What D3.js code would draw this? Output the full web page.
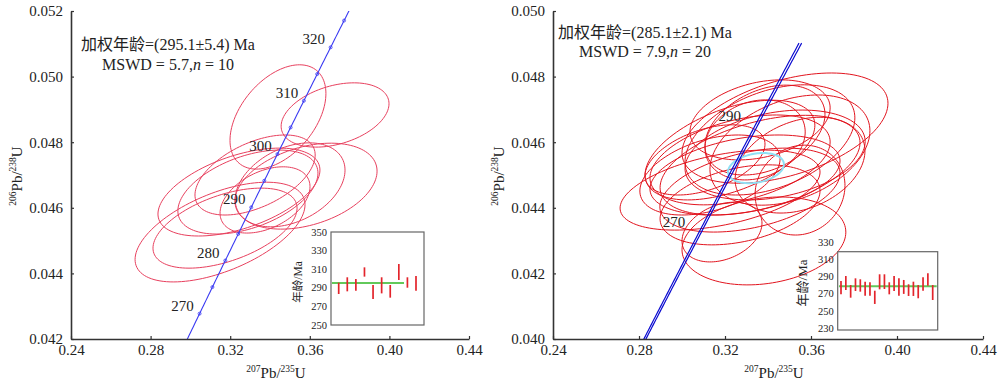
<!DOCTYPE html>
<html>
<head>
<meta charset="utf-8">
<script src="https://cdn.jsdelivr.net/npm/d3@7"></script>
<style>
  body { margin: 0; background: #fff; }
  text { font-family: "Liberation Serif", "Noto Sans CJK SC", serif; fill: #222; }
</style>
</head>
<body>
<svg id="chart" width="1000" height="385"></svg>
<script>
// spot ellipses: [207Pb/235U, err, 206Pb/238U, err, rho]
const leftSpots = [
  [0.3440, 0.0241, 0.04877, 0.00159, 0.45],
  [0.3727, 0.0271, 0.04883, 0.00098, 0.35],
  [0.3149, 0.0427, 0.04526, 0.00152, 0.55],
  [0.3174, 0.0362, 0.04538, 0.00122, 0.50],
  [0.3244, 0.0407, 0.04648, 0.00134, 0.50],
  [0.3289, 0.0352, 0.04648, 0.00128, 0.45],
  [0.3581, 0.0357, 0.04666, 0.00131, 0.35],
  [0.3375, 0.0226, 0.04624, 0.00101, 0.40],
  [0.3501, 0.0276, 0.04670, 0.00128, 0.35],
  [0.3325, 0.0302, 0.04700, 0.00122, 0.50]
];
const rightSpots = [
  [0.3381, 0.0381, 0.04299, 0.00134, 0.20],
  [0.3186, 0.0186, 0.04326, 0.00091, 0.30],
  [0.3177, 0.0465, 0.04454, 0.00122, 0.45],
  [0.3479, 0.0479, 0.04643, 0.00168, 0.45],
  [0.3363, 0.0326, 0.04668, 0.00122, 0.30],
  [0.3409, 0.0395, 0.04607, 0.00168, 0.40],
  [0.3270, 0.0419, 0.04546, 0.00137, 0.40],
  [0.3363, 0.0465, 0.04530, 0.00152, 0.45],
  [0.3293, 0.0442, 0.04500, 0.00122, 0.35],
  [0.3433, 0.0419, 0.04561, 0.00137, 0.30],
  [0.3223, 0.0395, 0.04576, 0.00152, 0.50],
  [0.3502, 0.0372, 0.04576, 0.00168, 0.35],
  [0.3316, 0.0419, 0.04454, 0.00128, 0.40],
  [0.3130, 0.0326, 0.04500, 0.00122, 0.40],
  [0.3549, 0.0302, 0.04530, 0.00146, 0.30],
  [0.3386, 0.0279, 0.04637, 0.00137, 0.35],
  [0.3270, 0.0372, 0.04409, 0.00122, 0.35],
  [0.3107, 0.0279, 0.04546, 0.00107, 0.45],
  [0.3549, 0.0209, 0.04454, 0.00137, 0.10],
  [0.3340, 0.0233, 0.04607, 0.00122, 0.20]
];
const rightMeanEllipse = [0.3344, 0.0130, 0.04521, 0.00046, 0.25];

const xTicks = [0.24, 0.28, 0.32, 0.36, 0.40, 0.44];
const leftYTicks = [0.042, 0.044, 0.046, 0.048, 0.050, 0.052];
const rightYTicks = [0.040, 0.042, 0.044, 0.046, 0.048, 0.050];

const leftMarkAges = [270, 275, 280, 285, 290, 295, 300, 305, 310, 315, 320, 325];
const leftLabelAges = [270, 280, 290, 300, 310, 320];
const rightLabelAges = [270, 290];

// weighted-mean inset: [low, high] age per spot (Ma)
const leftAgeBars = [
  [283.3, 295.5], [286.2, 301.3], [286.9, 299.5], [302.0, 312.0], [278.0, 293.0],
  [284.0, 301.3], [279.4, 293.0], [298.4, 315.6], [290.1, 301.3], [286.9, 302.7]
];
const rightAgeBars = [
  [269.5, 285.0], [274.5, 290.8], [265.6, 280.3], [273.4, 288.1], [272.6, 287.0],
  [267.9, 284.2], [267.9, 283.5], [258.3, 273.7], [275.3, 292.8], [275.7, 292.8],
  [269.5, 283.5], [273.4, 290.8], [267.9, 288.1], [270.0, 286.2], [267.6, 281.2],
  [267.6, 284.2], [264.9, 280.3], [273.7, 289.3], [279.5, 294.0], [262.9, 280.3]
];
const leftInsetTicks = [250, 270, 290, 310, 330, 350];
const rightInsetTicks = [230, 250, 270, 290, 310, 330];
const leftMeanLine = 295.1;
const rightMeanLine = 278.8;

const leftNote = ["加权年龄=(295.1±5.4) Ma", "5.7", "10"];
const rightNote = ["加权年龄=(285.1±2.1) Ma", "7.9", "20"];

// decay constants (1/Ma)
const L238 = 1.55125e-4, L235 = 9.8485e-4;

const svg = d3.select("#chart");

function ellipsePts(s) {
  let [cx, sx, cy, sy, r] = s;
  return d3.range(0, 361, 3).map(a => {
    let t = a * Math.PI / 180, u = Math.cos(t), v = Math.sin(t);
    return [cx + sx * u, cy + sy * (r * u + Math.sqrt(1 - r * r) * v)];
  });
}

function concordia(t, k) {
  return [Math.exp(L235 * k * t) - 1, Math.exp(L238 * t) - 1];
}

function drawPanel(p) {
  let x = d3.scaleLinear().domain([0.24, 0.44]).range([p.left, p.right]);
  let y = d3.scaleLinear().domain(p.yDomain).range([339, 11]);
  let g = svg.append("g");
  let line = d3.line().x(d => x(d[0])).y(d => y(d[1]));

  g.append("clipPath").attr("id", p.id + "-clip")
    .append("rect").attr("x", p.left).attr("y", 11)
    .attr("width", p.right - p.left).attr("height", 328);

  // spot ellipses
  g.append("g").selectAll("path").data(p.spots).join("path")
    .attr("d", s => line(ellipsePts(s)))
    .attr("fill", "none").attr("stroke", p.ellColor).attr("stroke-width", 1);

  if (p.meanEllipse) {
    g.append("path").attr("d", line(ellipsePts(p.meanEllipse)))
      .attr("fill", "none").attr("stroke", "#8fe0f5").attr("stroke-width", 2);
  }

  // concordia curve
  let cg = g.append("g").attr("clip-path", "url(#" + p.id + "-clip)");
  let ages = d3.range(p.ageRange[0], p.ageRange[1] + 0.01, 0.5);
  p.bands.forEach(k => {
    cg.append("path").attr("d", line(ages.map(t => concordia(t, k))))
      .attr("fill", "none").attr("stroke", p.curveColor).attr("stroke-width", p.curveWidth);
  });
  cg.selectAll("circle").data(p.markAges).join("circle")
    .attr("cx", t => x(concordia(t, 1)[0]))
    .attr("cy", t => y(concordia(t, 1)[1]))
    .attr("r", 1.5).attr("fill", "none").attr("stroke", p.curveColor).attr("stroke-width", 0.8);

  g.append("g").selectAll("text").data(p.labelAges).join("text")
    .attr("x", t => x(concordia(t, 1)[0]) + p.labelOff[0])
    .attr("y", t => y(concordia(t, 1)[1]) + p.labelOff[1])
    .attr("text-anchor", "middle").attr("dominant-baseline", "central")
    .attr("font-size", 15).text(d => d);

  // axes
  let xa = g.append("g").attr("transform", "translate(0,339)")
    .call(d3.axisBottom(x).tickValues(xTicks).tickFormat(d3.format(".2f"))
      .tickSize(-3).tickSizeOuter(0).tickPadding(5));
  let ya = g.append("g").attr("transform", "translate(" + p.left + ",0)")
    .call(d3.axisLeft(y).tickValues(p.yTicks).tickFormat(d3.format(".3f"))
      .tickSize(-3).tickSizeOuter(0).tickPadding(8));
  [xa, ya].forEach(a => {
    a.select(".domain").attr("stroke", "#333").attr("stroke-width", 1.6);
    a.selectAll(".tick line").attr("stroke", "#333").attr("stroke-width", 1.2);
    a.selectAll(".tick text").attr("font-size", 15).attr("fill", "#222")
      .attr("font-family", "Liberation Serif");
  });

  // axis titles
  let xt = g.append("text").attr("x", (p.left + p.right) / 2 + 6).attr("y", 378)
    .attr("text-anchor", "middle").attr("font-size", 15);
  xt.append("tspan").attr("font-size", 9.5).attr("dy", -6).text("207");
  xt.append("tspan").attr("dy", 6).text("Pb/");
  xt.append("tspan").attr("font-size", 9.5).attr("dy", -6).text("235");
  xt.append("tspan").attr("dy", 6).text("U");

  let yt = g.append("text")
    .attr("transform", "translate(" + (p.left - 49) + ",176) rotate(-90)")
    .attr("text-anchor", "middle").attr("font-size", 15);
  yt.append("tspan").attr("font-size", 9.5).attr("dy", -6).text("206");
  yt.append("tspan").attr("dy", 6).text("Pb/");
  yt.append("tspan").attr("font-size", 9.5).attr("dy", -6).text("238");
  yt.append("tspan").attr("dy", 6).text("U");

  // annotation
  g.append("text").attr("x", p.noteX).attr("y", p.noteY)
    .attr("text-anchor", "middle").attr("font-size", 16).text(p.note[0]);
  let n2 = g.append("text").attr("x", p.noteX).attr("y", p.noteY + p.noteGap)
    .attr("text-anchor", "middle").attr("font-size", 16);
  n2.append("tspan").text("MSWD = " + p.note[1] + ",");
  n2.append("tspan").attr("font-style", "italic").text("n");
  n2.append("tspan").text(" = " + p.note[2]);

  // weighted mean inset
  let ins = p.inset;
  let ig = g.append("g");
  ig.append("rect").attr("x", ins.x0).attr("y", ins.y0)
    .attr("width", ins.x1 - ins.x0).attr("height", ins.y1 - ins.y0)
    .attr("fill", "#fff").attr("stroke", "#666").attr("stroke-width", 1.2);
  let iy = d3.scaleLinear().domain([ins.ticks[0], ins.ticks[ins.ticks.length - 1]]).range(ins.yRange);
  let ix = d3.scaleLinear().domain([1, ins.bars.length]).range([ins.x0 + ins.padL, ins.x1 - ins.padR]);
  ig.selectAll("text.tk").data(ins.ticks).join("text").attr("class", "tk")
    .attr("x", ins.x0 - 4).attr("y", d => iy(d))
    .attr("text-anchor", "end").attr("dominant-baseline", "central")
    .attr("font-size", ins.tickFont).attr("fill", "#333").text(d => d);
  ig.append("text")
    .attr("transform", "translate(" + ins.labelX + "," + ins.labelY + ") rotate(-90)")
    .attr("text-anchor", "middle").attr("dominant-baseline", "central")
    .attr("font-size", ins.labelFont).attr("fill", "#444").text("年龄/Ma");
  ig.append("line").attr("x1", ins.meanX[0]).attr("x2", ins.meanX[1])
    .attr("y1", iy(ins.mean)).attr("y2", iy(ins.mean))
    .attr("stroke", "#62c95a").attr("stroke-width", 2);
  ig.selectAll("line.bar").data(ins.bars).join("line").attr("class", "bar")
    .attr("x1", (d, i) => ix(i + 1)).attr("x2", (d, i) => ix(i + 1))
    .attr("y1", d => iy(d[0])).attr("y2", d => iy(d[1]))
    .attr("stroke", "#e3242b").attr("stroke-width", 1.7);
}

drawPanel({
  id: "left", left: 71, right: 469, yDomain: [0.042, 0.052], yTicks: leftYTicks,
  spots: leftSpots, ellColor: "#e8405e",
  ageRange: [262, 330], bands: [1], curveColor: "#3a3af2", curveWidth: 1.1,
  markAges: leftMarkAges, labelAges: leftLabelAges, labelOff: [-17, -8],
  note: leftNote, noteX: 168, noteY: 50, noteGap: 20,
  inset: {
    x0: 331, x1: 424, y0: 232, y1: 325, yRange: [325, 232],
    ticks: leftInsetTicks, bars: leftAgeBars, mean: leftMeanLine,
    padL: 7.7, padR: 8, meanX: [332, 404], tickFont: 10.5,
    labelX: 298, labelY: 282, labelFont: 11.5
  }
});

drawPanel({
  id: "right", left: 553, right: 983, yDomain: [0.040, 0.050], yTicks: rightYTicks,
  spots: rightSpots, ellColor: "#e2141e", meanEllipse: rightMeanEllipse,
  ageRange: [250, 308.6], bands: [0.9985, 1.0015], curveColor: "#0a0ad0", curveWidth: 1.2,
  markAges: [], labelAges: rightLabelAges, labelOff: [-18, -26],
  note: rightNote, noteX: 645, noteY: 38, noteGap: 19,
  inset: {
    x0: 837.7, x1: 937.7, y0: 251.7, y1: 330, yRange: [328.3, 242.3],
    ticks: rightInsetTicks, bars: rightAgeBars, mean: rightMeanLine,
    padL: 3.3, padR: 5, meanX: [839, 936.7], tickFont: 10.5,
    labelX: 802, labelY: 283, labelFont: 13
  }
});
</script>
</body>
</html>
